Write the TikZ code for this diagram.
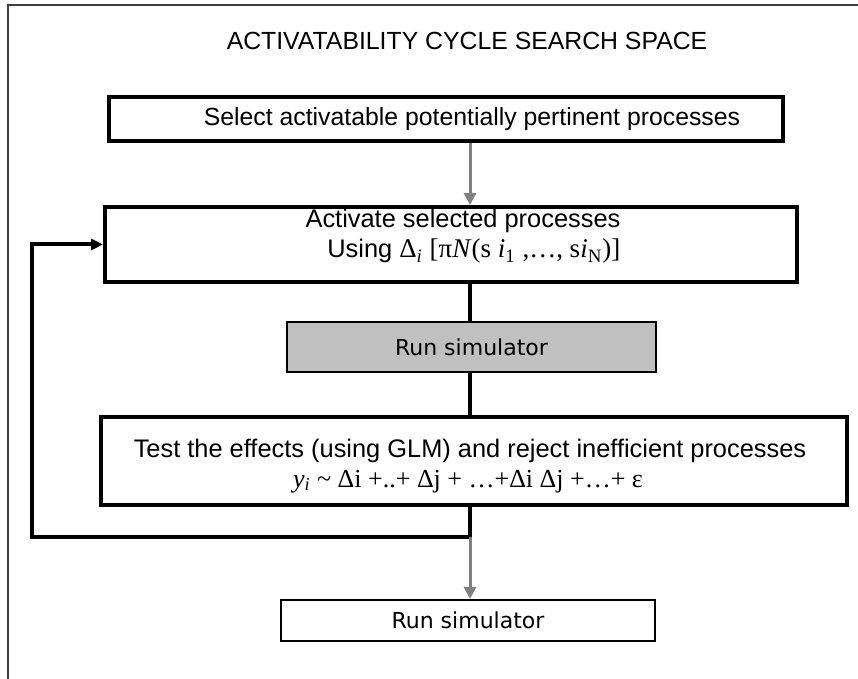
\documentclass[tikz,border=0pt]{standalone}
\usepackage{fontspec}
\setmainfont{Liberation Sans}
\newfontfamily\timesfont{Liberation Serif}
\newfontfamily\simfont{DejaVu Sans}
\usepackage{tikz}
\usetikzlibrary{positioning}
\usetikzlibrary{arrows.meta}
\definecolor{boxgray}{RGB}{192,192,192}
\definecolor{arrowgray}{RGB}{128,128,128}
\tikzset {
  % process boxes with a heavy frame
  proc/.style = {draw, rectangle, line width=2pt, inner sep=0pt, align=center,
                 font=\fontsize{12.7}{15}\selectfont},
  % simulator boxes
  sim/.style = {draw, rectangle, inner sep=0pt, font=\simfont\fontsize{11}{13}\selectfont},
  % black connectors and grey arrows
  flow/.style = {line width=2pt},
  grayflow/.style = {arrowgray, line width=1.5pt, -{Triangle[length=6pt, width=6pt]}},
}

\begin{document}
\begin{tikzpicture}[x=0.5pt, y=-0.5pt]
        \useasboundingbox (0,0) rectangle (858,679);
        \draw [black!75, line width=1pt] (8,679) -- (8,5) -- (858,5);

        \node[font=\fontsize{12.4}{15}\selectfont] (title) at (467,41) {ACTIVATABILITY CYCLE SEARCH SPACE};
        \node[proc, font=\fontsize{12.4}{15}\selectfont, minimum width=337pt, minimum height=22pt] (select) at (446,119)
          {\hspace*{26pt}Select activatable potentially pertinent processes};
        \node[proc, align=right, minimum width=346pt, minimum height=37.5pt] (activate) at (451,244.5)
          {\hspace*{12pt}Activate selected processes\\
           Using {\timesfont\fontsize{13.5}{15}\selectfont Δ\textsubscript{\itshape i} [π\textit{N}(s \textit{i}\textsubscript{1} ,…, s\textit{i}\textsubscript{N})]}\rule[-11pt]{0pt}{0pt}};
        \node[sim, fill=boxgray, line width=0.75pt, minimum width=184.5pt, minimum height=25pt] (runsim) at (471.5,347) {Run simulator};
        \node[proc, minimum width=373pt, minimum height=44pt] (test) at (474,461)
          {\rule{0pt}{14pt}Test the effects (using GLM) and reject inefficient processes\hspace*{4pt}\\
           {\timesfont\fontsize{13}{15}\selectfont \textit{y}\textsubscript{\itshape i} \textasciitilde{} Δi +..+ Δj + …+Δi Δj +…+ ε}\hspace*{6pt}};
        \node[sim, line width=1pt, minimum width=187pt, minimum height=20.5pt] (final) at (468,620.5) {Run simulator};

        \coordinate (spine) at (470,0);
        \coordinate (back) at (32,537);

        \draw [grayflow] (select.south -| spine) -- (activate.north -| spine);
        \draw [flow] (activate.south -| spine) -- (runsim.north -| spine);
        \draw [flow] (runsim.south -| spine) -- (test.north -| spine);
        \draw [flow, -{Triangle[length=6pt, width=5.5pt]}] (test.south -| spine) |- (back) |- (activate.west);
        \draw [grayflow] (back -| spine) -- (final.north -| spine);
      \end{tikzpicture}
\end{document}
